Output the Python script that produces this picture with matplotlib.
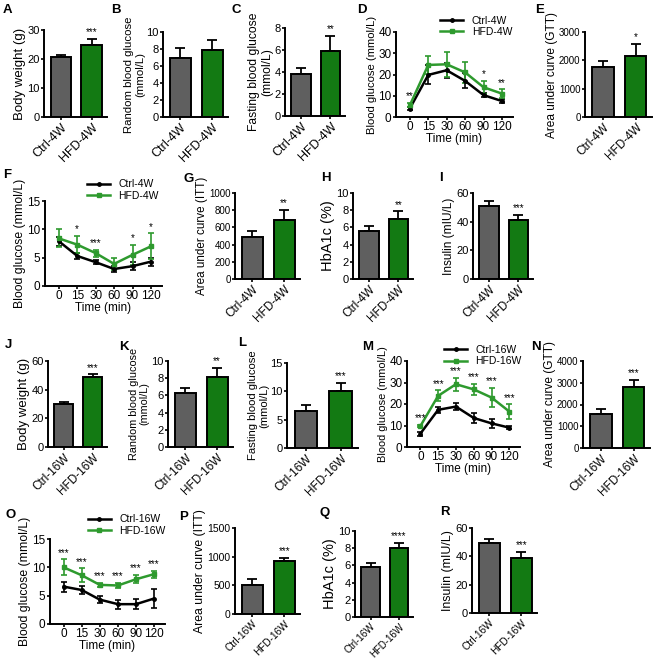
import numpy as np
import matplotlib
matplotlib.use("Agg")
import matplotlib.pyplot as plt
from matplotlib.lines import Line2D

plt.rcParams["font.family"] = ["Liberation Sans", "DejaVu Sans"]
plt.rcParams["font.size"] = 8

W, H = 654, 661
GRAY = "#5f5f5f"
GREEN = "#137a13"
LGREEN = "#2e9a2e"

groups_4w = ["Ctrl-4W", "HFD-4W"]
groups_16w = ["Ctrl-16W", "HFD-16W"]
time_labels = ["0", "15", "30", "60", "90", "120"]

# bar panels: means, sd (upper error)
bw_4w = [20.8, 25.0]; bw_4w_err = [0.7, 1.9]
rbg_4w = [7.0, 7.9]; rbg_4w_err = [1.1, 1.2]
fbg_4w = [3.85, 5.9]; fbg_4w_err = [0.5, 1.35]
gtt_auc_4w = [1750, 2170]; gtt_auc_4w_err = [230, 400]
itt_auc_4w = [490, 685]; itt_auc_4w_err = [70, 115]
hba1c_4w = [5.6, 7.0]; hba1c_4w_err = [0.6, 0.85]
ins_4w = [51.0, 41.5]; ins_4w_err = [3.5, 3.2]

bw_16w = [29.8, 48.5]; bw_16w_err = [1.8, 2.2]
rbg_16w = [6.3, 8.1]; rbg_16w_err = [0.6, 1.1]
fbg_16w = [6.5, 10.0]; fbg_16w_err = [1.1, 1.5]
gtt_auc_16w = [1580, 2800]; gtt_auc_16w_err = [220, 330]
itt_auc_16w = [500, 920]; itt_auc_16w_err = [110, 60]
hba1c_16w = [5.8, 8.0]; hba1c_16w_err = [0.5, 0.6]
ins_16w = [49.5, 38.5]; ins_16w_err = [2.5, 4.5]

# time courses
gtt_ctrl_4w = [4.0, 19.8, 22.0, 17.0, 10.3, 7.5]
gtt_ctrl_4w_err = [0.6, 4.5, 3.5, 3.5, 1.0, 1.0]
gtt_hfd_4w = [5.5, 24.5, 24.8, 21.0, 14.0, 11.0]
gtt_hfd_4w_err = [1.0, 4.3, 6.0, 5.0, 3.0, 2.0]
gtt_sig_4w = ["**", "", "", "", "*", "**"]

itt_ctrl_4w = [7.9, 5.3, 4.2, 3.0, 3.5, 4.3]
itt_ctrl_4w_err = [0.8, 0.6, 0.4, 0.5, 0.7, 0.7]
itt_hfd_4w = [8.4, 7.3, 5.8, 3.9, 5.5, 7.0]
itt_hfd_4w_err = [1.6, 1.5, 0.6, 1.0, 1.8, 2.3]
itt_sig_4w = ["", "*", "***", "", "*", "*"]

gtt_ctrl_16w = [6.2, 17.3, 18.8, 13.5, 11.0, 9.0]
gtt_ctrl_16w_err = [1.0, 1.3, 1.8, 2.3, 2.0, 0.8]
gtt_hfd_16w = [9.7, 23.8, 29.2, 26.8, 23.0, 16.5]
gtt_hfd_16w_err = [0.5, 2.5, 3.0, 2.5, 4.5, 3.3]
gtt_sig_16w = ["***"] * 6

itt_ctrl_16w = [6.6, 6.0, 4.3, 3.5, 3.5, 4.5]
itt_ctrl_16w_err = [0.9, 0.7, 0.6, 0.8, 0.9, 1.6]
itt_hfd_16w = [10.0, 8.6, 6.9, 6.8, 7.9, 8.8]
itt_hfd_16w_err = [1.4, 1.2, 0.3, 0.5, 0.7, 0.6]
itt_sig_16w = ["***"] * 6

fig = plt.figure(figsize=(W / 100, H / 100), dpi=100)


def axes_px(x0, y0, x1, y1):
    return fig.add_axes([x0 / W, 1 - y1 / H, (x1 - x0) / W, (y1 - y0) / H])


def letter_at(letter, pos):
    fig.text(pos[0] / W, 1 - pos[1] / H, letter, fontsize=9.5,
             fontweight="bold", va="center", ha="left")


def style(ax, ymax, step, ts):
    for s in ["top", "right"]:
        ax.spines[s].set_visible(False)
    for s in ["left", "bottom"]:
        ax.spines[s].set_linewidth(1.4)
    ax.tick_params(width=1.2, length=2.4, pad=0.8, labelsize=ts)
    ax.set_ylim(0, ymax)
    ax.set_yticks(np.arange(0, ymax + step / 2, step))


def bar_panel(box, vals, errs, labels, ylabel, ymax, step, sig, letter, lpos,
              yls=8.5, xts=8.5, ts=8):
    ax = axes_px(*box)
    x = np.arange(2)
    ax.bar(x, vals, width=0.66, color=[GRAY, GREEN], edgecolor="black",
           linewidth=1.4, zorder=2)
    ax.errorbar(x, vals, yerr=[[0, 0], errs], fmt="none", ecolor="black",
                elinewidth=1.3, capsize=3.5, capthick=1.3, zorder=1)
    style(ax, ymax, step, ts)
    ax.set_xlim(-0.55, 1.5)
    ax.set_xticks(x)
    ax.set_xticklabels(labels, rotation=45, ha="right", rotation_mode="anchor",
                       fontsize=xts)
    ax.set_ylabel(ylabel, fontsize=yls, labelpad=1, linespacing=1.05)
    if sig:
        ax.text(1, vals[1] + errs[1] + ymax * 0.02, sig, ha="center",
                va="bottom", fontsize=7)
    letter_at(letter, lpos)
    return ax


def line_panel(box, ctrl, ctrl_err, hfd, hfd_err, sig, names, ymax, step,
               letter, lpos, loff, yls=8.5):
    ax = axes_px(*box)
    x = np.arange(len(time_labels))
    ax.errorbar(x, ctrl, yerr=ctrl_err, color="black", marker="o", ms=2.5,
                lw=1.8, elinewidth=1.2, capsize=2, capthick=1.2)
    ax.errorbar(x, hfd, yerr=hfd_err, color=LGREEN, marker="s", ms=2.5,
                lw=1.8, elinewidth=1.2, capsize=2, capthick=1.2)
    for i, s in enumerate(sig):
        if s:
            top = max(ctrl[i] + ctrl_err[i], hfd[i] + hfd_err[i])
            ax.text(i, top + ymax * 0.02, s, ha="center", va="bottom",
                    fontsize=7)
    style(ax, ymax, step, 8.5)
    ax.set_xlim(-0.75, 5.6)
    ax.set_xticks(x)
    ax.set_xticklabels(time_labels)
    ax.set_xlabel("Time (min)", fontsize=8.5, labelpad=0)
    ax.set_ylabel("Blood glucose (mmol/L)", fontsize=yls, labelpad=1)
    handles = [Line2D([], [], color="black", marker="o", ms=2.5, lw=1.8),
               Line2D([], [], color=LGREEN, marker="s", ms=2.5, lw=1.8)]
    ax.legend(handles, names, frameon=False, fontsize=7.5, loc="lower left",
              bbox_to_anchor=loff, handlelength=2.2, handletextpad=0.8,
              borderpad=0, borderaxespad=0, labelspacing=0.15)
    letter_at(letter, lpos)
    return ax


# row 1
bar_panel((44, 30, 107, 117), bw_4w, bw_4w_err, groups_4w,
          "Body weight (g)", 30, 10, "***", "A", (3, 10), yls=9.5, xts=9)
bar_panel((163, 32, 228, 117), rbg_4w, rbg_4w_err, groups_4w,
          "Random blood glucose\n(mmol/L)", 10, 2, "", "B", (111, 10),
          yls=8.2, xts=9)
bar_panel((285, 28, 345, 116), fbg_4w, fbg_4w_err, groups_4w,
          "Fasting blood glucose\n(mmol/L)", 8, 2, "**", "C", (231, 10),
          yls=8.7, xts=9)
line_panel((396, 32, 513, 117), gtt_ctrl_4w, gtt_ctrl_4w_err, gtt_hfd_4w,
           gtt_hfd_4w_err, gtt_sig_4w, groups_4w, 40, 10, "D", (357, 10),
           (0.38, 0.94), yls=8.1)
bar_panel((585, 32, 652, 117), gtt_auc_4w, gtt_auc_4w_err, groups_4w,
          "Area under curve (GTT)", 3000, 1000, "*", "E", (535, 10),
          yls=8.6, ts=7)

# row 2
line_panel((45, 201, 162, 286), itt_ctrl_4w, itt_ctrl_4w_err, itt_hfd_4w,
           itt_hfd_4w_err, itt_sig_4w, groups_4w, 15, 5, "F", (3, 175),
           (0.36, 1.0), yls=8.8)
bar_panel((235, 193, 300, 279), itt_auc_4w, itt_auc_4w_err, groups_4w,
          "Area under curve (ITT)", 1000, 200, "**", "G", (183, 179),
          yls=8.4, ts=7)
bar_panel((353, 193, 413, 279), hba1c_4w, hba1c_4w_err, groups_4w,
          "HbA1c (%)", 10, 2, "**", "H", (321, 178), yls=10.5)
bar_panel((473, 193, 533, 279), ins_4w, ins_4w_err, groups_4w,
          "Insulin (mIU/L)", 60, 20, "***", "I", (439, 178), yls=8.6)

# row 3
bar_panel((48, 361, 107, 447), bw_16w, bw_16w_err, groups_16w,
          "Body weight (g)", 60, 20, "***", "J", (5, 345), yls=9.5)
bar_panel((168, 361, 233, 447), rbg_16w, rbg_16w_err, groups_16w,
          "Random blood glucose\n(mmol/L)", 10, 2, "**", "K", (119, 347),
          yls=7.8)
bar_panel((287, 363, 358, 448), fbg_16w, fbg_16w_err, groups_16w,
          "Fasting blood glucose\n(mmol/L)", 15, 5, "***", "L", (238, 343),
          yls=8.1)
line_panel((407, 361, 520, 447), gtt_ctrl_16w, gtt_ctrl_16w_err, gtt_hfd_16w,
           gtt_hfd_16w_err, gtt_sig_16w, groups_16w, 40, 10, "M", (362, 347),
           (0.33, 0.94), yls=7.9)
bar_panel((583, 361, 650, 448), gtt_auc_16w, gtt_auc_16w_err, groups_16w,
          "Area under curve (GTT)", 4000, 1000, "***", "N", (531, 347),
          yls=8.6, ts=7)

# row 4
line_panel((50, 539, 165, 624), itt_ctrl_16w, itt_ctrl_16w_err, itt_hfd_16w,
           itt_hfd_16w_err, itt_sig_16w, groups_16w, 15, 5, "O", (5, 515),
           (0.33, 1.035), yls=8.8)
bar_panel((235, 528, 300, 614), itt_auc_16w, itt_auc_16w_err, groups_16w,
          "Area under curve (ITT)", 1500, 500, "***", "P", (179, 517),
          yls=8.8, xts=7.2, ts=7.5)
bar_panel((355, 531, 413, 617), hba1c_16w, hba1c_16w_err, groups_16w,
          "HbA1c (%)", 10, 2, "****", "Q", (319, 513), yls=10.5, xts=7.0)
bar_panel((472, 528, 537, 613), ins_16w, ins_16w_err, groups_16w,
          "Insulin (mIU/L)", 60, 20, "***", "R", (440, 512), yls=8.9,
          xts=7.2)

fig.savefig("out.png", dpi=100)
